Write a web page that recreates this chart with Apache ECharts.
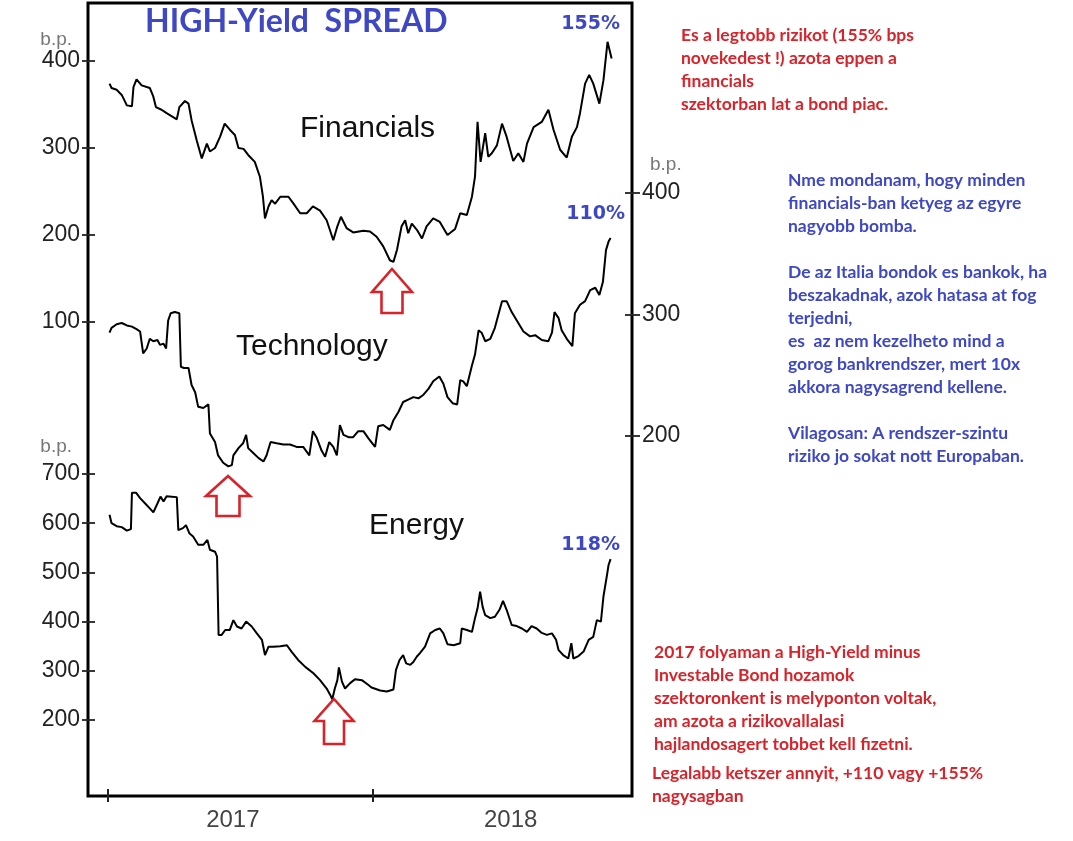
<!DOCTYPE html>
<html>
<head>
<meta charset="utf-8">
<title>HIGH-Yield SPREAD</title>
<script src="https://cdn.jsdelivr.net/npm/echarts@6/dist/echarts.min.js"></script>
<style>
  html, body { margin: 0; padding: 0; background: #fff; }
  #chart { width: 1073px; height: 841px; }
</style>
</head>
<body>
<div id="chart"></div>
<script>
// x = weeks counted from 1 Jan 2017
var yearLabels = ['2017', '2018'];
var yearStarts = [0, 52];
var yearLabelAt = [24.5, 79];
var X_MIN = -3.92, X_MAX = 102.8;

// b.p. spreads, [week, bp]
var financials = [
  [0.3,374],[0.7,369],[1.7,367],[2.7,361],[3.7,349],[4.7,348],[5.0,370],[5.6,379],[6.6,372],[8.2,369],
  [8.9,359],[9.4,347],[10.5,344],[11.5,340],[13.5,333],[14.0,347],[15.1,354],[15.8,351],[16.4,332],[17.4,309],
  [18.4,288],[19.4,305],[20.0,296],[21.0,300],[22.0,313],[22.9,328],[23.9,321],[24.9,315],[25.6,300],[26.6,299],
  [27.5,292],[28.8,284],[29.8,267],[30.4,244],[30.8,219],[31.5,233],[32.1,240],[32.8,236],[33.8,244],[35.4,244],
  [36.4,236],[37.7,225],[39.0,225],[40.2,233],[41.6,228],[42.9,217],[44.2,194],[45.0,210],[45.7,221],[46.8,208],
  [48.1,203],[50.1,205],[51.4,204],[52.7,198],[54.0,187],[55.3,171],[56.0,169],[56.7,183],[57.6,210],[58.3,217],
  [58.9,202],[59.6,213],[60.6,206],[61.6,196],[62.5,210],[63.8,219],[65.1,215],[66.6,200],[68.1,207],[69.1,225],
  [70.4,223],[71.4,244],[72.0,267],[72.5,330],[73.1,284],[74.0,317],[74.6,290],[75.3,294],[76.3,303],[77.3,328],
  [78.2,313],[79.5,285],[80.5,294],[81.5,284],[82.2,305],[83.5,324],[85.1,330],[86.4,344],[87.4,321],[88.7,298],
  [90.0,289],[91.0,313],[92.0,324],[92.6,340],[93.6,374],[94.4,384],[95.2,374],[96.4,351],[97.2,378],[98.0,422],
  [98.8,403]
];

var technology = [
  [0.3,285],[0.7,289],[1.7,292],[2.7,293],[3.7,291],[4.7,290],[5.6,288],[6.3,286],[6.9,268],[7.6,272],
  [8.2,280],[8.9,278],[9.7,279],[10.2,275],[10.9,276],[11.4,272],[11.8,295],[12.3,301],[13.1,302],[14.0,301],
  [14.3,257],[14.9,256],[15.8,256],[16.4,242],[17.1,236],[17.7,224],[18.7,223],[19.7,226],[20.0,202],[21.0,195],
  [21.6,184],[22.6,178],[23.6,175],[24.3,176],[24.6,184],[25.6,190],[26.5,194],[27.1,201],[27.5,190],[28.5,186],
  [29.5,182],[30.5,179],[31.1,184],[31.9,195],[33.1,194],[34.4,193],[35.7,193],[37.0,191],[38.3,191],[39.5,184],
  [40.2,204],[40.9,199],[41.9,188],[42.6,183],[43.4,195],[44.2,191],[44.9,184],[45.5,209],[46.2,201],[47.2,199],
  [48.1,199],[49.1,204],[50.1,204],[51.1,198],[52.4,191],[53.0,208],[54.0,209],[55.3,205],[56.0,213],[57.0,220],
  [57.9,228],[58.9,230],[59.9,232],[60.9,231],[61.9,234],[62.9,239],[63.8,245],[65.0,249],[65.8,243],[66.6,232],
  [67.6,227],[68.5,226],[69.1,246],[69.7,245],[70.4,241],[71.4,258],[72.0,267],[72.7,287],[73.3,285],[74.0,278],
  [75.0,280],[75.9,289],[76.6,300],[77.3,311],[78.2,311],[79.2,302],[80.2,295],[81.5,286],[82.8,282],[83.8,283],
  [85.1,279],[86.4,278],[87.1,285],[87.6,302],[88.4,297],[89.0,287],[90.0,280],[91.1,274],[91.6,301],[92.6,308],
  [93.6,311],[94.6,320],[95.6,322],[96.4,316],[97.1,327],[97.7,353],[98.2,360],[98.6,363]
];

var energy = [
  [0.3,617],[0.7,600],[1.7,594],[2.7,592],[3.7,585],[4.5,588],[4.7,662],[5.5,662],[6.3,651],[7.3,640],
  [8.2,630],[8.9,622],[9.7,640],[10.3,654],[10.9,644],[11.5,655],[12.5,654],[13.5,653],[13.8,586],[14.7,590],
  [15.3,596],[16.0,579],[16.7,573],[17.7,556],[18.7,556],[19.5,566],[20.0,546],[21.0,542],[21.4,532],[21.7,373],
  [22.3,373],[23.0,383],[23.9,383],[24.6,403],[25.3,390],[26.2,386],[27.1,400],[28.2,390],[29.2,376],[30.2,363],
  [30.8,332],[31.5,349],[32.4,349],[33.8,350],[35.1,352],[36.0,339],[37.3,322],[38.7,308],[40.3,295],[41.6,281],
  [42.9,264],[43.6,251],[44.0,242],[44.5,264],[45.0,281],[45.3,307],[45.9,278],[46.5,264],[47.5,275],[48.5,283],
  [49.8,281],[51.1,271],[51.7,266],[53.4,260],[54.7,258],[56.0,262],[56.5,302],[57.2,322],[57.9,332],[58.5,315],
  [59.3,312],[59.9,318],[60.6,329],[61.2,336],[62.2,349],[63.2,376],[64.2,383],[65.1,386],[65.8,376],[66.6,354],
  [67.8,352],[69.1,356],[69.4,386],[70.4,383],[71.4,379],[72.0,407],[72.5,427],[73.0,461],[73.5,430],[74.0,413],
  [75.0,407],[75.9,410],[76.8,424],[77.5,442],[78.2,424],[79.2,393],[80.2,391],[81.2,386],[82.2,379],[83.1,391],
  [84.1,386],[85.1,377],[86.1,373],[87.1,376],[87.9,363],[88.4,342],[89.3,332],[90.3,325],[90.9,356],[91.3,325],
  [92.3,330],[93.3,339],[94.3,363],[95.2,369],[95.9,403],[96.7,400],[97.2,451],[97.9,495],[98.2,515],[98.6,527]
];

var sectorNames = ['Financials', 'Technology', 'Energy'];
var growthLabels = ['155%', '110%', '118%'];

var noteTop = [
  'Es a legtobb rizikot (155% bps',
  'novekedest !) azota eppen a',
  'financials',
  'szektorban lat a bond piac.'
];
var noteMiddle = [
  'Nme mondanam, hogy minden',
  'financials-ban ketyeg az egyre',
  'nagyobb bomba.',
  '',
  'De az Italia bondok es bankok, ha',
  'beszakadnak, azok hatasa at fog',
  'terjedni,',
  'es  az nem kezelheto mind a',
  'gorog bankrendszer, mert 10x',
  'akkora nagysagrend kellene.',
  '',
  'Vilagosan: A rendszer-szintu',
  'riziko jo sokat nott Europaban.'
];
var noteBottom = [
  '2017 folyaman a High-Yield minus',
  'Investable Bond hozamok',
  'szektoronkent is melyponton voltak,',
  'am azota a rizikovallalasi',
  'hajlandosagert tobbet kell fizetni.'
];
var noteLast = [
  'Legalabb ketszer annyit, +110 vagy +155%',
  'nagysagban'
];

var RED = '#d8232a';
var BLUE = '#3f48c4';
var NOTE_FONT = 'bold 17.5px Lato';

var chart = echarts.init(document.getElementById('chart'));

function arrow(tx, ty, hw, hh, sw, sl) {
  return {
    type: 'polygon',
    shape: { points: [
      [tx, ty], [tx + hw / 2, ty + hh], [tx + sw / 2, ty + hh], [tx + sw / 2, ty + hh + sl],
      [tx - sw / 2, ty + hh + sl], [tx - sw / 2, ty + hh], [tx - hw / 2, ty + hh]
    ] },
    style: { fill: '#fff', stroke: RED, lineWidth: 2.6, lineJoin: 'miter' },
    z: 10
  };
}

function label(x, y, text, font, fill, align) {
  return {
    type: 'text', x: x, y: y, z: 10,
    style: { text: text, font: font, fill: fill, align: align || 'left', verticalAlign: 'middle' }
  };
}

function block(x, y, lines, fill) {
  return {
    type: 'text', x: x, y: y, z: 10,
    style: { text: lines.join('\n'), font: NOTE_FONT, fill: fill, lineHeight: 23, verticalAlign: 'top' }
  };
}

var tickLabelStyle = { color: '#222', fontSize: 23, fontFamily: 'Liberation Sans' };

function sideAxis(grid, pos, min, max, offset, len) {
  return {
    type: 'value', gridIndex: grid, position: pos, min: min, max: max, interval: 100, offset: offset,
    axisLine: { show: false, onZero: false },
    axisTick: { show: true, inside: true, length: len, lineStyle: { color: '#222', width: 1.8 } },
    axisLabel: Object.assign({ margin: 2 }, tickLabelStyle),
    splitLine: { show: false }
  };
}

function hiddenX(grid) {
  return { type: 'value', gridIndex: grid, min: X_MIN, max: X_MAX, show: false, axisLine: { onZero: false } };
}

var lineStyle = { color: '#000', width: 2 };

var option = {
  animation: false,
  backgroundColor: '#fff',
  grid: [
    { left: 88, right: 441, top: 3, bottom: 45, show: true, borderColor: '#000', borderWidth: 3, backgroundColor: 'transparent' },
    { left: 88, right: 441, top: 61, bottom: 519 },
    { left: 88, right: 441, top: 193, bottom: 405 },
    { left: 88, right: 441, top: 474, bottom: 121 }
  ],
  xAxis: [
    {
      type: 'value', gridIndex: 0, min: X_MIN, max: X_MAX, offset: 6,
      axisLine: { show: false, onZero: false },
      axisTick: { show: true, inside: true, length: 13, customValues: yearStarts, lineStyle: { color: '#222', width: 2 } },
      axisLabel: {
        customValues: yearLabelAt, margin: 6, color: '#444', fontSize: 24, fontFamily: 'Liberation Sans',
        formatter: function (v) { return yearLabels[yearLabelAt.indexOf(v)]; }
      },
      splitLine: { show: false }
    },
    hiddenX(1), hiddenX(2), hiddenX(3)
  ],
  yAxis: [
    sideAxis(1, 'left', 100, 400, 6, 13),
    sideAxis(2, 'right', 200, 400, 8, 15),
    sideAxis(3, 'left', 200, 700, 6, 13),
    { type: 'value', gridIndex: 0, show: false, axisLine: { onZero: false } }
  ],
  series: [
    { name: sectorNames[0], type: 'line', xAxisIndex: 1, yAxisIndex: 0, data: financials, showSymbol: false, clip: false, lineStyle: lineStyle, silent: true },
    { name: sectorNames[1], type: 'line', xAxisIndex: 2, yAxisIndex: 1, data: technology, showSymbol: false, clip: false, lineStyle: lineStyle, silent: true },
    { name: sectorNames[2], type: 'line', xAxisIndex: 3, yAxisIndex: 2, data: energy, showSymbol: false, clip: false, lineStyle: lineStyle, silent: true }
  ],
  graphic: [
    label(145, 22, 'HIGH-Yield  SPREAD', 'bold 32px Lato', BLUE),
    label(72, 40, 'b.p.', '19px Liberation Sans', '#777', 'right'),
    label(72, 447, 'b.p.', '19px Liberation Sans', '#777', 'right'),
    label(650, 165, 'b.p.', '19px Liberation Sans', '#777'),
    label(300, 129, sectorNames[0], '30px Liberation Sans', '#111'),
    label(236, 347, sectorNames[1], '30px Liberation Sans', '#111'),
    label(369, 526, sectorNames[2], '30px Liberation Sans', '#111'),
    label(620, 24, growthLabels[0], 'bold 19px DejaVu Sans', BLUE, 'right'),
    label(625, 214, growthLabels[1], 'bold 19px DejaVu Sans', BLUE, 'right'),
    label(620, 545, growthLabels[2], 'bold 19px DejaVu Sans', BLUE, 'right'),
    block(681, 23.5, noteTop, RED),
    block(788, 168.5, noteMiddle, BLUE),
    block(654, 641, noteBottom, RED),
    block(652, 762, noteLast, RED),
    arrow(392, 269, 40, 23, 21, 21),
    arrow(228, 476, 44, 20, 23, 20),
    arrow(334, 699, 39, 22, 20, 23)
  ]
};

chart.setOption(option);
</script>
</body>
</html>
